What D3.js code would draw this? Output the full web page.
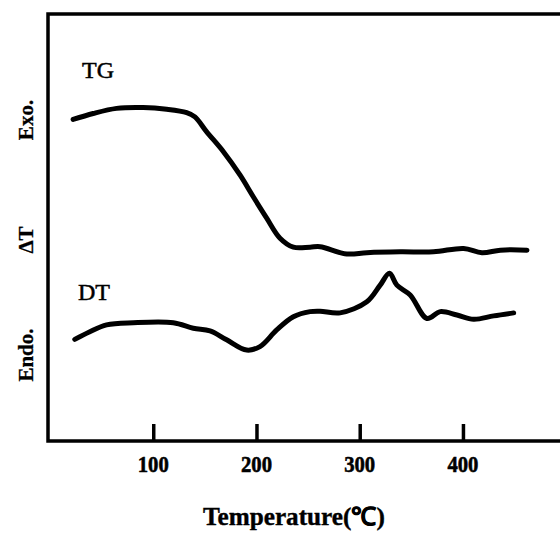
<!DOCTYPE html>
<html><head><meta charset="utf-8">
<script src="https://cdn.jsdelivr.net/npm/d3@7"></script>
<style>html,body{margin:0;padding:0;background:#fff;}svg{display:block;}</style>
</head><body>
<svg id="chart" width="560" height="538"></svg>
<script>
// Temperature (°C) readings along each trace
const tgTemp = [22.4, 41.8, 64.5, 90.3, 113.0, 132.4, 140.4, 151.8, 167.8, 184.0, 196.9, 209.9, 222.8, 235.7, 251.9, 261.6, 287.5, 306.9, 339.2, 371.5, 400.6, 418.4, 436.2, 462.0];
const tgValue = [75.3, 76.7, 77.9, 78.1, 77.7, 76.9, 75.9, 72.4, 67.8, 62.3, 57.2, 52.2, 47.5, 45.4, 45.4, 45.5, 43.8, 44.1, 44.3, 44.3, 45.1, 44.1, 44.7, 44.7];
const dtTemp = [24.0, 38.6, 54.8, 80.6, 119.4, 138.8, 155.0, 171.1, 190.5, 203.4, 219.6, 235.7, 251.9, 261.6, 281.0, 306.9, 319.8, 328.8, 336.0, 348.9, 365.1, 378.0, 394.2, 410.3, 429.7, 449.1];
const dtValue = [23.8, 25.6, 27.2, 27.7, 27.7, 26.4, 25.8, 23.7, 21.3, 22.1, 26.0, 29.1, 30.3, 30.4, 30.0, 32.6, 36.5, 39.3, 36.5, 34.2, 28.7, 30.3, 29.5, 28.5, 29.3, 30.0];
const xTicks = [100, 200, 300, 400];
const seriesNames = ["TG", "DT"];
const yLabels = ["Exo.", "ΔT", "Endo."];
const xTitle = "Temperature(℃)";

const svg = d3.select("#chart");
const x = d3.scaleLinear().domain([0, 494]).range([50, 560]);
const y = d3.scaleLinear().domain([0, 100]).range([441, 14]);

const serif = "'Liberation Serif','Times New Roman',serif";

// frame: top, left, bottom
svg.append("path")
  .attr("d", `M${x(494)},${y(100)}H48V${y(0)}H${x(494)}`)
  .attr("fill", "none").attr("stroke", "#000").attr("stroke-width", 3.5);

// ticks (inward)
const xAxis = d3.axisTop(x).tickValues(xTicks).tickSize(17).tickFormat("");
const gAx = svg.append("g").attr("transform", `translate(0,${y(0)})`).call(xAxis);
gAx.select(".domain").remove();
gAx.selectAll(".tick line").attr("stroke", "#000").attr("stroke-width", 3.5);

// tick labels
svg.append("g").selectAll("text").data(xTicks).join("text")
  .attr("x", d => x(d)).attr("y", 472)
  .attr("text-anchor", "middle")
  .attr("font-family", serif).attr("font-weight", "bold").attr("font-size", 24)
  .attr("stroke", "#000").attr("stroke-width", 0.6)
  .attr("textLength", 31).attr("lengthAdjust", "spacingAndGlyphs")
  .text(d => d);

// x title
svg.append("text").attr("x", 294).attr("y", 525).attr("text-anchor", "middle")
  .attr("font-family", serif).attr("font-weight", "bold").attr("font-size", 25)
  .attr("stroke", "#000").attr("stroke-width", 0.4)
  .attr("textLength", 182).attr("lengthAdjust", "spacingAndGlyphs")
  .text(xTitle);

// y labels (rotated)
const yLabelPos = [120, 240, 355];
yLabels.forEach((t, i) => {
  svg.append("text")
    .attr("transform", `translate(33,${yLabelPos[i]}) rotate(-90)`)
    .attr("text-anchor", "middle")
    .attr("font-family", serif).attr("font-weight", "bold").attr("font-size", 21)
    .attr("stroke", "#000").attr("stroke-width", 0.3)
    .text(t);
});

// curves
const line = d3.line().x(d => x(d[0])).y(d => y(d[1])).curve(d3.curveCatmullRom.alpha(0.5));
const tg = tgTemp.map((t, i) => [t, tgValue[i]]);
const dt = dtTemp.map((t, i) => [t, dtValue[i]]);
[tg, dt].forEach(data => {
  svg.append("path").datum(data).attr("d", line)
    .attr("fill", "none").attr("stroke", "#000").attr("stroke-width", 5)
    .attr("stroke-linecap", "round").attr("stroke-linejoin", "round");
});

// series labels
svg.append("text").attr("x", 82).attr("y", 78)
  .attr("font-family", serif).attr("font-size", 24)
  .attr("stroke", "#000").attr("stroke-width", 0.5).text(seriesNames[0]);
svg.append("text").attr("x", 78).attr("y", 300)
  .attr("font-family", serif).attr("font-size", 24)
  .attr("stroke", "#000").attr("stroke-width", 0.5).text(seriesNames[1]);
</script>
</body></html>
